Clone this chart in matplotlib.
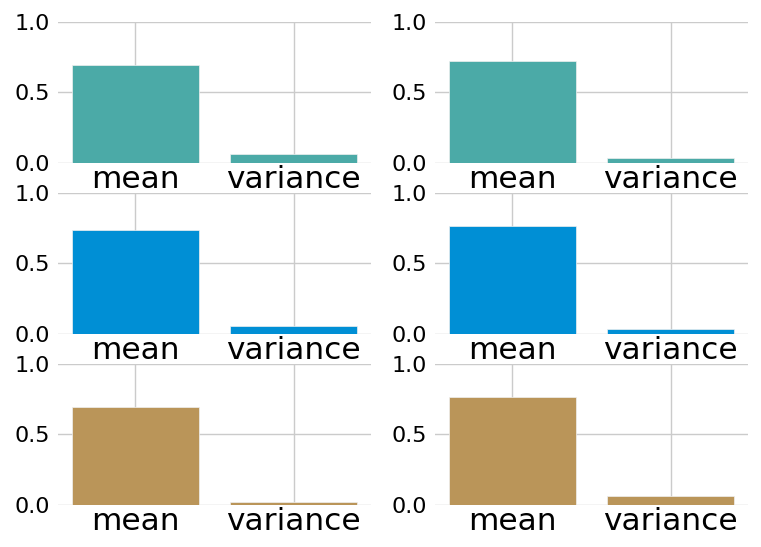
import matplotlib
matplotlib.use('Agg')
import matplotlib.pyplot as plt

labels = ['mean', 'variance']
# rows: teal, blue, tan ; columns: left, right
vals_teal = [[0.693, 0.068], [0.722, 0.037]]
vals_blue = [[0.734, 0.057], [0.762, 0.035]]
vals_tan = [[0.694, 0.020], [0.764, 0.060]]
colors = ['#4baaa7', '#008fd5', '#ba9559']

rows = [vals_teal, vals_blue, vals_tan]

fig, axes = plt.subplots(3, 2, figsize=(7.61, 5.47), dpi=100)
fig.subplots_adjust(left=0.076, right=0.983, top=0.960, bottom=0.077,
                    hspace=0.21, wspace=0.204)

for r, row in enumerate(rows):
    for c in range(2):
        ax = axes[r, c]
        ax.bar(labels, row[c], width=0.8, color=colors[r],
               edgecolor='#f0f0f0', linewidth=0.5, zorder=2)
        ax.set_ylim(0, 1.0)
        ax.set_yticks([0.0, 0.5, 1.0])
        ax.grid(True, color='#cbcbcb', linewidth=1.0, zorder=0)
        for s in ax.spines.values():
            s.set_visible(False)
        ax.tick_params(axis='both', length=0)
        ax.tick_params(axis='y', labelsize=16, pad=6)
        ax.tick_params(axis='x', labelsize=22.5, pad=1.5)

fig.savefig('out.png')
